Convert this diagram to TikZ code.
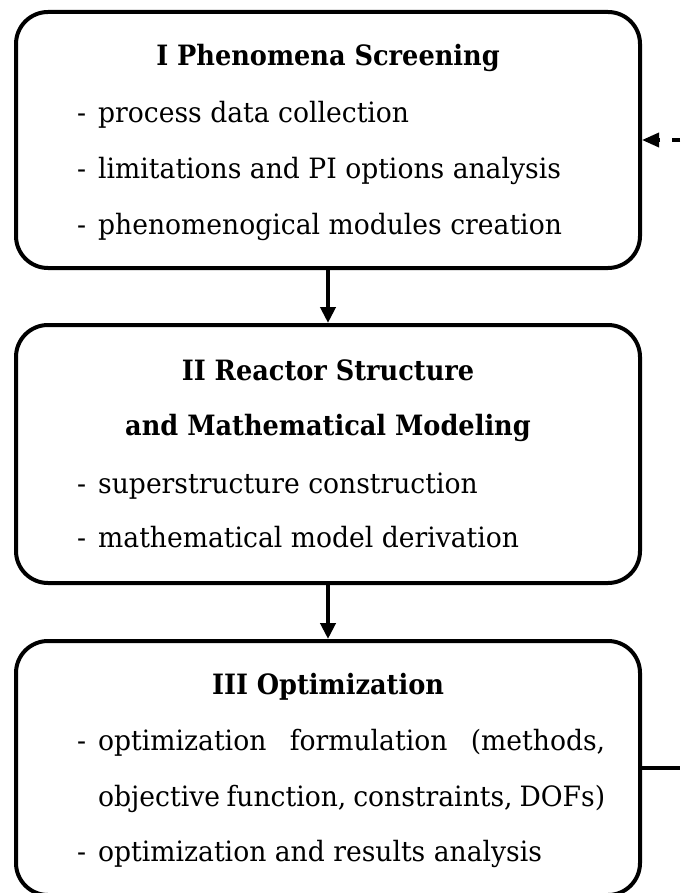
\documentclass[tikz,border=0pt]{standalone}
\usepackage{fontspec}
\setmainfont[FakeStretch=0.95,BoldFeatures={FakeStretch=0.915}]{DejaVu Serif}
\usetikzlibrary{arrows.meta}
\begin{document}
\begin{tikzpicture}[x=1pt,y=-1pt,
  stagebox/.style={draw, line width=4pt, rounded corners=32pt, minimum width=624pt, inner sep=0pt},
  ttl/.style={anchor=base, inner sep=0pt, font=\fontsize{28}{34}\selectfont\bfseries},
  itm/.style={anchor=base west, inner sep=0pt, font=\fontsize{28}{34}\selectfont},
  flow/.style={line width=4pt, -{Triangle[length=16pt,width=15pt]}},
  feedback/.style={line width=3.5pt, dash pattern=on 12pt off 12pt, dash phase=4pt, -{Triangle[length=17pt,width=14pt]}}
]
\useasboundingbox (0,0) rectangle (680,893);

% stage frames
\node[stagebox, minimum height=256pt] (b1) at (328,140) {};
\node[stagebox, minimum height=258pt] (b2) at (328,454) {};
\node[stagebox, minimum height=254pt] (b3) at (328,768) {};

% stage I
\node[ttl] (t1) at (328,66) {I Phenomena Screening};
\node[itm] (d11) at (77,123) {-};
\node[itm] (l11) at (98,123) {process data collection};
\node[itm] (d12) at (77,179) {-};
\node[itm] (l12) at (98,179) {limitations and PI options analysis};
\node[itm] (d13) at (77,234) {-};
\node[itm] (l13) at (98,234) {phenomenogical modules creation};

% stage II
\node[ttl] (t2a) at (328,380) {II Reactor Structure};
\node[ttl] (t2b) at (328,435) {and Mathematical Modeling};
\node[itm] (d21) at (77,493) {-};
\node[itm] (l21) at (98,493) {superstructure construction};
\node[itm] (d22) at (77,547) {-};
\node[itm] (l22) at (98,547) {mathematical model derivation};

% stage III
\node[ttl] (t3) at (328,694) {III Optimization};
\node[itm] (d31) at (77,750) {-};
\node[itm] (l31) at (98,750) {\makebox[507pt][s]{optimization formulation (methods,}};
\node[itm] (l32) at (98,806) {\makebox[507pt][s]{objective function, constraints, DOFs)}};
\node[itm] (d33) at (77,861) {-};
\node[itm] (l33) at (98,861) {optimization and results analysis};

% connectors
\draw[flow] (b1.south) -- (b2.north);
\draw[flow] (b2.south) -- (b3.north);
\coordinate (fbin) at (680,140);
\coordinate (fbout) at (680,768);
\draw[feedback] (fbin) -- (b1.east);
\draw[line width=4pt] (b3.east |- fbout) -- (fbout);
\end{tikzpicture}
\end{document}
